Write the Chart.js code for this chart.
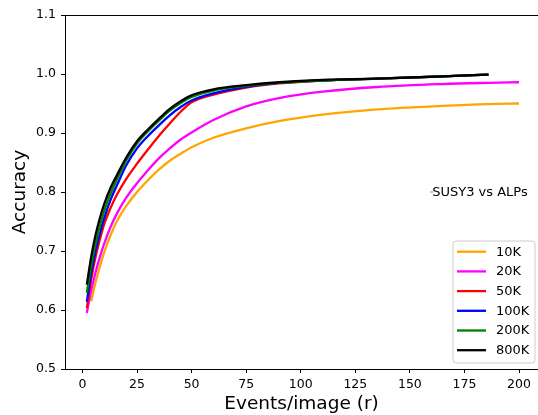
<!DOCTYPE html>
<html>
<head>
<meta charset="utf-8">
<script src="https://cdn.jsdelivr.net/npm/chart.js@4.4.1/dist/chart.umd.min.js"></script>
<style>
html,body{margin:0;padding:0;background:#fff;overflow:hidden;}
canvas{display:block;}
</style>
</head>
<body>
<canvas id="c" width="538" height="415"></canvas>
<script>
// ---- data ----
const rValues = [2,4,6,8,10,13,16,20,25,30,35,40,45,50,60,75,90,110,135,165,186,200];
const seriesLabels = ['10K','20K','50K','100K','200K','800K'];
const acc10K  = [null,0.615,0.647,0.674,0.698,0.728,0.752,0.776,0.800,0.820,0.838,0.853,0.865,0.876,0.892,0.908,0.920,0.931,0.940,0.946,0.949,0.950];
const acc20K  = [0.595,0.633,0.664,0.690,0.713,0.742,0.765,0.790,0.815,0.837,0.857,0.874,0.889,0.901,0.922,0.945,0.959,0.970,0.978,0.983,0.985,0.986];
const acc50K  = [0.603,0.652,0.690,0.720,0.746,0.774,0.797,0.822,0.848,0.872,0.895,0.916,0.936,0.952,0.965,0.977,0.984,0.989,0.992,0.996,0.999,null];
const acc100K = [0.614,0.662,0.700,0.730,0.756,0.788,0.813,0.845,0.874,0.895,0.913,0.930,0.944,0.955,0.967,0.978,0.985,0.989,0.992,0.996,0.999,null];
const acc200K = [0.629,0.675,0.712,0.742,0.768,0.798,0.823,0.853,0.882,0.903,0.921,0.938,0.951,0.961,0.972,0.980,0.985,0.989,0.992,0.996,0.999,null];
const acc800K = [0.643,0.690,0.727,0.756,0.780,0.808,0.830,0.858,0.886,0.906,0.924,0.941,0.954,0.964,0.974,0.981,0.986,0.990,0.992,0.996,0.999,null];
const xTickValues = [0,25,50,75,100,125,150,175,200];
const yTickValues = [0.5,0.6,0.7,0.8,0.9,1.0,1.1];
const noteText = 'SUSY3 vs ALPs';
const notePoint = {x:160, y:0.8};

// ---- styles ----
const colors = ['#ffa500','#ff00ff','#ff0000','#0000ff','#008000','#000000'];
const allSeries = [acc10K,acc20K,acc50K,acc100K,acc200K,acc800K];
const FONT = "'DejaVu Sans', sans-serif";

const datasets = allSeries.map((arr,i)=>({
  label: seriesLabels[i],
  data: rValues.map((r,j)=>({x:r, y:arr[j]})).filter(p=>p.y!==null),
  borderColor: colors[i],
  backgroundColor: colors[i],
  borderWidth: 2.3,
  pointRadius: 0,
  pointHoverRadius: 0,
  pointHitRadius: 0,
  fill: false,
  cubicInterpolationMode: 'monotone',
  order: allSeries.length - i + 1
}));
datasets.push({
  label: '_note',
  data: [notePoint],
  borderColor: '#ffa500',
  backgroundColor: '#ffa500',
  pointStyle: 'line',
  pointRadius: 1.5,
  pointBorderWidth: 1.5,
  pointHoverRadius: 0,
  pointHitRadius: 0,
  showLine: false,
  order: 0
});

const decor = {
  id: 'decor',
  afterDraw(chart){
    const ctx = chart.ctx, a = chart.chartArea;
    ctx.save();
    ctx.strokeStyle = '#000'; ctx.lineWidth = 1;
    ctx.beginPath(); ctx.moveTo(a.left, a.top + 0.5); ctx.lineTo(a.right + 2, a.top + 0.5); ctx.stroke();
    const xs = chart.scales.x, ys = chart.scales.y;
    ctx.fillStyle = '#000';
    ctx.font = '13px ' + FONT;
    ctx.textBaseline = 'middle';
    ctx.textAlign = 'left';
    ctx.fillText(noteText, xs.getPixelForValue(notePoint.x) + 0.5, ys.getPixelForValue(notePoint.y) + 0.5);
    const bx = 453, by = 241, bw = 82, bh = 122, rr = 3;
    ctx.beginPath();
    ctx.moveTo(bx+rr,by); ctx.lineTo(bx+bw-rr,by); ctx.quadraticCurveTo(bx+bw,by,bx+bw,by+rr);
    ctx.lineTo(bx+bw,by+bh-rr); ctx.quadraticCurveTo(bx+bw,by+bh,bx+bw-rr,by+bh);
    ctx.lineTo(bx+rr,by+bh); ctx.quadraticCurveTo(bx,by+bh,bx,by+bh-rr);
    ctx.lineTo(bx,by+rr); ctx.quadraticCurveTo(bx,by,bx+rr,by);
    ctx.closePath();
    ctx.fillStyle = 'rgba(255,255,255,0.8)'; ctx.fill();
    ctx.strokeStyle = '#cccccc'; ctx.lineWidth = 1; ctx.stroke();
    ctx.font = '13px ' + FONT;
    seriesLabels.forEach((lab,i)=>{
      const y = 251.7 + i*19.7;
      ctx.strokeStyle = colors[i]; ctx.lineWidth = 2.3;
      ctx.beginPath(); ctx.moveTo(457, y); ctx.lineTo(486, y); ctx.stroke();
      ctx.fillStyle = '#000';
      ctx.fillText(lab, 496, y + 0.5);
    });
    ctx.restore();
  }
};

new Chart(document.getElementById('c'), {
  type: 'line',
  data: { datasets },
  plugins: [decor],
  options: {
    responsive: false,
    animation: false,
    devicePixelRatio: 1,
    events: [],
    layout: { autoPadding: false, padding: { top: 15, right: 0, left: 0, bottom: 0 } },
    plugins: { legend: { display: false }, tooltip: { enabled: false } },
    scales: {
      x: {
        type: 'linear',
        min: -8, max: 208.7,
        afterBuildTicks: s => { s.ticks = xTickValues.map(v=>({value:v})); },
        afterFit: s => { s.height = 46; s.paddingRight = 0; s.paddingLeft = 0; },
        ticks: { color: '#000', font: { family: FONT, size: 12.5 }, padding: 4, maxRotation: 0, autoSkip: false },
        grid: { display: true, drawOnChartArea: false, drawTicks: true, tickLength: 4, color: '#000', tickWidth: 1 },
        border: { display: true, color: '#000', width: 1 },
        title: { display: true, text: 'Events/image (r)', color: '#000', font: { family: FONT, size: 18.5 }, padding: { top: 0, bottom: 0 } }
      },
      y: {
        type: 'linear',
        min: 0.5, max: 1.1,
        afterBuildTicks: s => { s.ticks = yTickValues.map(v=>({value:v})); },
        afterFit: s => { s.width = 65; },
        ticks: { color: '#000', font: { family: FONT, size: 12.5 }, padding: 5, callback: v => Number(v).toFixed(1) },
        grid: { display: true, drawOnChartArea: false, drawTicks: true, tickLength: 4, color: '#000', tickWidth: 1 },
        border: { display: true, color: '#000', width: 1 },
        title: { display: true, text: 'Accuracy', color: '#000', font: { family: FONT, size: 18.5 }, padding: { top: 9, bottom: 0 } }
      }
    }
  }
});
</script>
</body>
</html>
